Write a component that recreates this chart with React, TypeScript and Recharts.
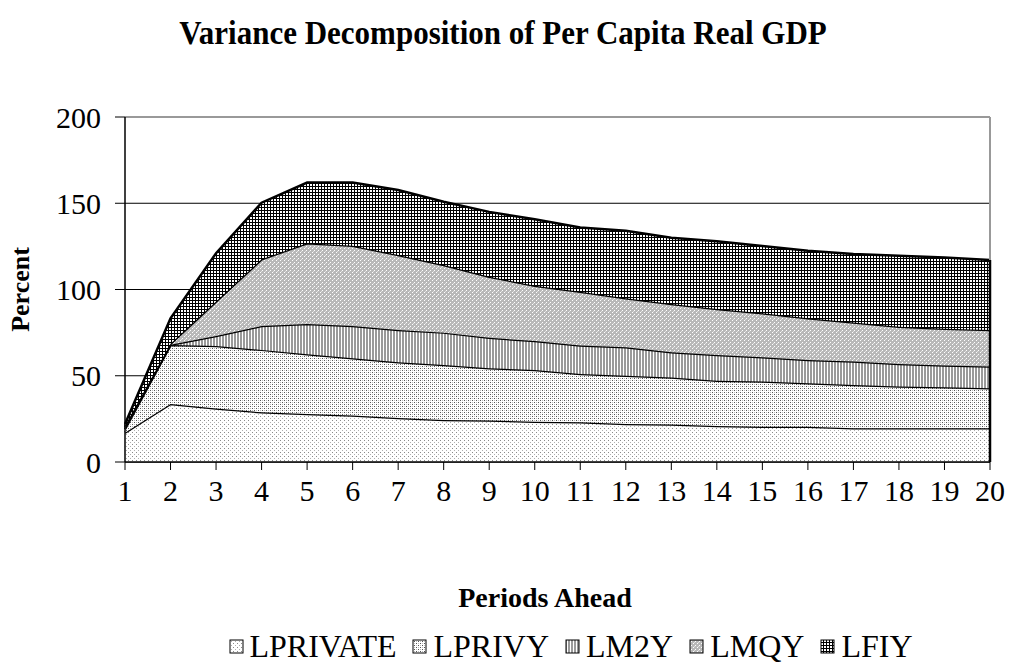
import React from 'react';
import { AreaChart, Area, XAxis, YAxis, CartesianGrid, ReferenceLine } from 'recharts';

const periods = [1, 2, 3, 4, 5, 6, 7, 8, 9, 10, 11, 12, 13, 14, 15, 16, 17, 18, 19, 20];
const lprivate = [17, 33.6, 31, 28.8, 27.8, 26.9, 25.5, 24.3, 24, 23.4, 23, 22, 21.8, 20.9, 20.5, 20.5, 19.5, 19.5, 19.5, 19.5];
const lprivy = [2, 34.2, 36.2, 36.2, 34.6, 33.2, 32.3, 31.9, 30.3, 29.9, 28, 28, 27.2, 26.2, 26.1, 25.1, 25.1, 24.2, 23.8, 23.2];
const lm2y = [1, 0.2, 5.8, 13.8, 17.6, 18.7, 18.7, 18.8, 17.7, 16.8, 16.6, 16.5, 14.6, 14.9, 14.1, 13.5, 13.6, 13.1, 12.7, 12.6];
const lmqy = [1, 0.5, 20, 38.7, 46.8, 46.6, 43.5, 39.2, 35.4, 32.1, 31.1, 28.4, 28, 26.7, 25.5, 24.2, 22.6, 21.6, 21.3, 21.2];
const lfiy = [1, 14.8, 28, 32.8, 35.2, 36.6, 37.7, 36.7, 37.6, 38.5, 37.3, 39.1, 38.4, 39.3, 39, 39.2, 39.8, 41.2, 41.2, 40.6];
const yTicks = [0, 50, 100, 150, 200];

const seriesNames = ['LPRIVATE', 'LPRIVY', 'LM2Y', 'LMQY', 'LFIY'];
const seriesValues = [lprivate, lprivy, lm2y, lmqy, lfiy];
const patternIds = ['pPrivate', 'pPrivy', 'pM2y', 'pMqy', 'pFiy'];

const data = periods.map((p, i) => {
  const row: any = { period: p };
  seriesNames.forEach((n, k) => {
    row[n] = seriesValues[k][i];
  });
  return row;
});

const lastTotal = seriesValues.reduce((s, arr) => s + arr[arr.length - 1], 0);

const FONT = 'Liberation Serif';

const Patterns = () => (
  <svg width={0} height={0} style={{ position: 'absolute' }}>
    <defs>
      <pattern id="pPrivate" width={4} height={4} patternUnits="userSpaceOnUse">
        <rect width={4} height={4} fill="#fff" />
        <rect x={0} y={0} width={1} height={1} fill="#8a8a8a" />
        <rect x={2} y={2} width={1} height={1} fill="#b0b0b0" />
      </pattern>
      <pattern id="pPrivy" width={4} height={4} patternUnits="userSpaceOnUse">
        <rect width={4} height={4} fill="#fff" />
        <rect x={0} y={0} width={1} height={1} fill="#555" />
        <rect x={2} y={2} width={1} height={1} fill="#555" />
        <rect x={2} y={0} width={1} height={1} fill="#bbb" />
        <rect x={0} y={2} width={1} height={1} fill="#bbb" />
      </pattern>
      <pattern id="pM2y" width={3} height={3} patternUnits="userSpaceOnUse">
        <rect width={3} height={3} fill="#fff" />
        <rect x={0} y={0} width={2} height={3} fill="#9a9a9a" />
      </pattern>
      <pattern id="pMqy" width={4} height={4} patternUnits="userSpaceOnUse">
        <rect width={4} height={4} fill="#b8b8b8" />
        <rect x={0} y={0} width={1} height={1} fill="#fff" />
        <rect x={2} y={2} width={1} height={1} fill="#fff" />
        <rect x={1} y={3} width={1} height={1} fill="#e0e0e0" />
      </pattern>
      <pattern id="pFiy" width={3} height={3} patternUnits="userSpaceOnUse">
        <rect width={3} height={3} fill="#fff" />
        <rect x={0} y={0} width={3} height={1} fill="#000" />
        <rect x={0} y={0} width={1} height={3} fill="#000" />
      </pattern>
    </defs>
  </svg>
);

const LegendBox = ({ id }: { id: string }) => (
  <svg width={15} height={15} style={{ marginRight: 6, display: 'block' }}>
    <rect x={1} y={1} width={13} height={13} fill={`url(#${id})`} stroke="#000" strokeWidth={1} />
  </svg>
);

export default function App() {
  return (
    <div style={{ position: 'absolute', left: 0, top: 0, width: 1010, height: 666, background: '#fff', fontFamily: FONT, overflow: 'hidden' }}>
      <Patterns />
      <div style={{ position: 'absolute', left: 0, top: 14, width: 1006, textAlign: 'center', fontWeight: 'bold', fontSize: 31, lineHeight: '38px', transform: 'scaleY(1.1)' }}>
        Variance Decomposition of Per Capita Real GDP
      </div>
      <AreaChart
        width={1010}
        height={666}
        data={data}
        margin={{ top: 117, right: 20, bottom: 164, left: 0 }}
      >
        <CartesianGrid vertical={false} stroke="#000" strokeWidth={1} />
        <XAxis
          dataKey="period"
          height={40}
          tickSize={8}
          tickMargin={10}
          axisLine={{ stroke: '#000', strokeWidth: 1.5 }}
          tickLine={{ stroke: '#000' }}
          tick={{ fill: '#000', fontSize: 30, fontFamily: FONT }}
          interval={0}
        />
        <YAxis
          domain={[0, 200]}
          ticks={yTicks}
          width={125}
          tickSize={10}
          tickMargin={14}
          axisLine={{ stroke: '#000', strokeWidth: 1.5 }}
          tickLine={{ stroke: '#000' }}
          tick={{ fill: '#000', fontSize: 30, fontFamily: FONT }}
          label={{ value: 'Percent', angle: -90, position: 'insideLeft', offset: 20, style: { fontWeight: 'bold', fontSize: 26, fill: '#000', fontFamily: FONT, textAnchor: 'middle' } }}
        />
        <ReferenceLine y={200} stroke="#999" strokeWidth={2} />
        {seriesNames.map((n, k) => (
          <Area
            key={n}
            type="linear"
            dataKey={n}
            stackId="a"
            stroke="#000"
            strokeWidth={2.5}
            fill={`url(#${patternIds[k]})`}
            fillOpacity={1}
            isAnimationActive={false}
            dot={false}
            activeDot={false}
          />
        ))}
        <ReferenceLine segment={[{ x: 20, y: lastTotal }, { x: 20, y: 200 }]} stroke="#999" strokeWidth={2} />
        <ReferenceLine segment={[{ x: 20, y: 0 }, { x: 20, y: lastTotal }]} stroke="#000" strokeWidth={2.5} />
      </AreaChart>
      <div style={{ position: 'absolute', left: 0, top: 581, width: 1090, textAlign: 'center', fontWeight: 'bold', fontSize: 28, lineHeight: '34px' }}>
        Periods Ahead
      </div>
      <div style={{ position: 'absolute', left: 0, top: 632, width: 1141, height: 28, display: 'flex', justifyContent: 'center', alignItems: 'center', fontSize: 32, lineHeight: '28px' }}>
        {seriesNames.map((n, k) => (
          <div key={n} style={{ display: 'flex', alignItems: 'center', marginRight: k === seriesNames.length - 1 ? 0 : 16 }}>
            <LegendBox id={patternIds[k]} />
            <span>{n}</span>
          </div>
        ))}
      </div>
    </div>
  );
}
